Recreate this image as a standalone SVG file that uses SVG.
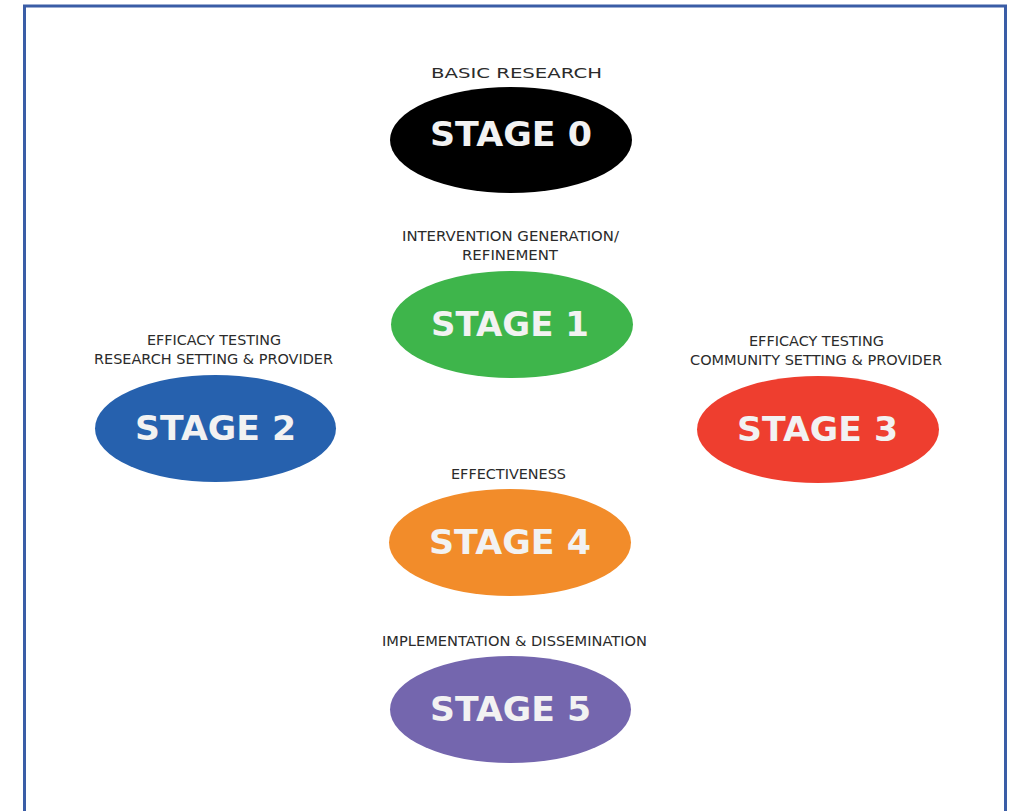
<svg xmlns="http://www.w3.org/2000/svg" width="1012" height="811" viewBox="0 0 1012 811">
<style>
.stage{font-family:"DejaVu Sans","Liberation Sans",sans-serif;font-weight:bold;font-size:33px;fill:#f2f2f2;text-anchor:middle}
.lbl{font-family:"DejaVu Sans","Liberation Sans",sans-serif;font-size:14.5px;fill:#2b2b2b;text-anchor:middle}
</style>
<rect x="0" y="0" width="1012" height="811" fill="#ffffff"/>
<rect x="24.5" y="6" width="981" height="860" fill="none" stroke="#3a5da6" stroke-width="3"/>
<g id="stage0">
<text class="lbl" x="516.5" y="77.5" font-size="17" textLength="171" lengthAdjust="spacingAndGlyphs">BASIC RESEARCH</text>
<ellipse cx="511" cy="140" rx="121" ry="53" fill="#000000"/>
<text class="stage" x="511" y="146" textLength="162" lengthAdjust="spacingAndGlyphs">STAGE 0</text>
</g>
<g id="stage1">
<text class="lbl" x="510.5" y="241" textLength="217" lengthAdjust="spacingAndGlyphs">INTERVENTION GENERATION/</text>
<text class="lbl" x="510" y="260" textLength="96" lengthAdjust="spacingAndGlyphs">REFINEMENT</text>
<ellipse cx="512" cy="324.5" rx="121" ry="53.5" fill="#3eb54b"/>
<text class="stage" x="510" y="336" textLength="158" lengthAdjust="spacingAndGlyphs">STAGE 1</text>
</g>
<g id="stage2">
<text class="lbl" x="214" y="345" textLength="134" lengthAdjust="spacingAndGlyphs">EFFICACY TESTING</text>
<text class="lbl" x="213.5" y="364" textLength="239" lengthAdjust="spacingAndGlyphs">RESEARCH SETTING &amp; PROVIDER</text>
<ellipse cx="215.5" cy="428.5" rx="120.5" ry="53.5" fill="#2661ae"/>
<text class="stage" x="215.5" y="440" textLength="161" lengthAdjust="spacingAndGlyphs">STAGE 2</text>
</g>
<g id="stage3">
<text class="lbl" x="816.5" y="346" textLength="135" lengthAdjust="spacingAndGlyphs">EFFICACY TESTING</text>
<text class="lbl" x="816" y="365" textLength="252" lengthAdjust="spacingAndGlyphs">COMMUNITY SETTING &amp; PROVIDER</text>
<ellipse cx="818" cy="429.5" rx="121" ry="53.5" fill="#ee3e2f"/>
<text class="stage" x="817.5" y="441" textLength="161" lengthAdjust="spacingAndGlyphs">STAGE 3</text>
</g>
<g id="stage4">
<text class="lbl" x="508.5" y="479" textLength="115" lengthAdjust="spacingAndGlyphs">EFFECTIVENESS</text>
<ellipse cx="510" cy="542.5" rx="121" ry="53.5" fill="#f28c2a"/>
<text class="stage" x="510" y="554" textLength="162" lengthAdjust="spacingAndGlyphs">STAGE 4</text>
</g>
<g id="stage5">
<text class="lbl" x="514.5" y="646" textLength="265" lengthAdjust="spacingAndGlyphs">IMPLEMENTATION &amp; DISSEMINATION</text>
<ellipse cx="510.5" cy="709.5" rx="120.5" ry="53.5" fill="#7466ae"/>
<text class="stage" x="510.5" y="721" textLength="161" lengthAdjust="spacingAndGlyphs">STAGE 5</text>
</g>
<g id="connectors"></g>
</svg>
